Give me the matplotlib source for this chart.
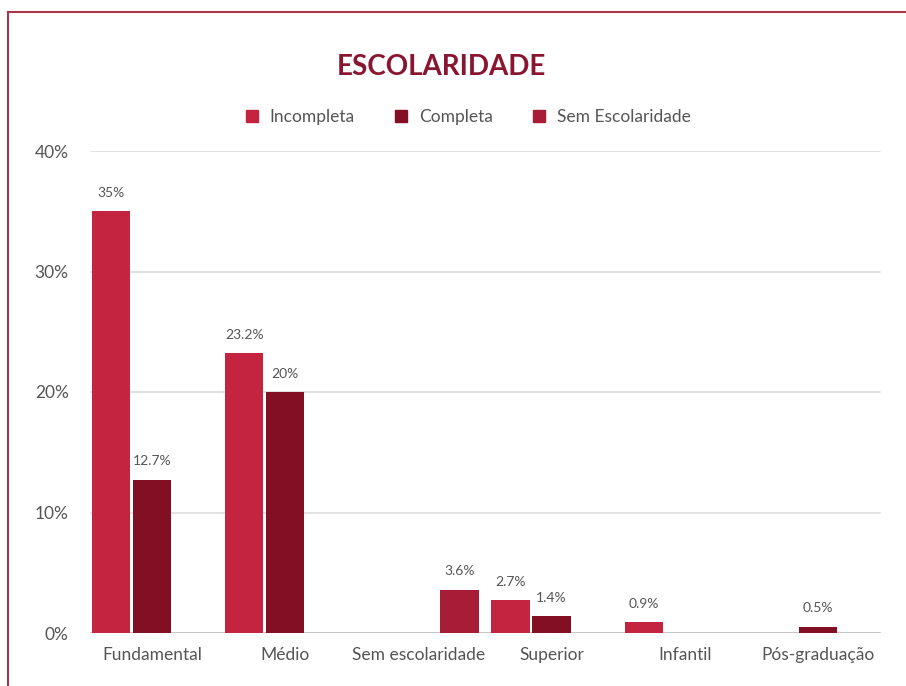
import matplotlib
matplotlib.use("Agg")
import matplotlib.pyplot as plt
from matplotlib.lines import Line2D
import numpy as np

plt.rcParams['font.family'] = ['Lato', 'DejaVu Sans']

categories = ["Fundamental", "Médio", "Sem escolaridade", "Superior", "Infantil", "Pós-graduação"]
series_names = ["Incompleta", "Completa", "Sem Escolaridade"]
incompleta = [35, 23.2, None, 2.7, 0.9, None]
completa = [12.7, 20, None, 1.4, None, 0.5]
sem_escolaridade = [None, None, 3.6, None, None, None]
label_incompleta = ["35%", "23.2%", None, "2.7%", "0.9%", None]
label_completa = ["12.7%", "20%", None, "1.4%", None, "0.5%"]
label_sem = [None, None, "3.6%", None, None, None]
yticks = [0, 10, 20, 30, 40]
ytick_labels = ["0%", "10%", "20%", "30%", "40%"]
title = "ESCOLARIDADE"

colors = ["#C52440", "#830F25", "#A71D38"]
text_grey = "#555555"

W, H = 906, 686
fig = plt.figure(figsize=(W / 100, H / 100), dpi=100)
ax_left, ax_right = 85.4, 884.6
ax_bottom, ax_top = 633, 151
ax = fig.add_axes([ax_left / W, 1 - ax_bottom / H, (ax_right - ax_left) / W, (ax_bottom - ax_top) / H])

x = np.arange(len(categories))
slot = 0.308
bw = 0.289
all_series = [incompleta, completa, sem_escolaridade]
all_labels = [label_incompleta, label_completa, label_sem]
for k, (vals, labs) in enumerate(zip(all_series, all_labels)):
    for i, v in enumerate(vals):
        if v is None:
            continue
        xi = x[i] + (k - 1) * slot
        ax.bar(xi, v, width=bw, color=colors[k], zorder=3)
        ax.annotate(labs[i], (xi, v), xytext=(0, 9), textcoords="offset points",
                    ha="center", va="bottom", fontsize=10, color=text_grey)

ax.set_xlim(-0.5, len(categories) - 0.5)
ax.set_ylim(0, 40)
ax.set_yticks(yticks)
ax.set_yticklabels(ytick_labels, fontsize=12.5, color=text_grey)
ax.set_xticks(x)
ax.set_xticklabels(categories, fontsize=12.5, color=text_grey)
ax.tick_params(axis="both", length=0)
ax.tick_params(axis="x", pad=10)
ax.tick_params(axis="y", pad=12)
for s in ax.spines.values():
    s.set_visible(False)

gx0 = (91 - ax_left) / (ax_right - ax_left)
gx1 = (880 - ax_left) / (ax_right - ax_left)
for t in yticks:
    ax.axhline(t, xmin=gx0, xmax=gx1, color="#dddddd" if t else "#bbbbbb", lw=1.2, zorder=1)

fig.text(441 / W, 1 - 67 / H, title, ha="center", va="center", fontsize=20,
         fontweight="bold", color="#8A1530")

handles = [Line2D([0], [0], marker="s", linestyle="none", markersize=9,
                  markerfacecolor=c, markeredgecolor=c) for c in colors]
fig.legend(handles, series_names, loc="center", bbox_to_anchor=(467 / W, 1 - 117 / H),
           ncol=3, frameon=False, fontsize=12.5, labelcolor=text_grey,
           handletextpad=0.5, columnspacing=2.2, handlelength=1.0)

# frame (top and left edges visible)
fig.add_artist(Line2D([8 / W, 1.0], [1 - 12 / H, 1 - 12 / H], color="#A8354A", lw=1.5,
                      transform=fig.transFigure))
fig.add_artist(Line2D([8 / W, 8 / W], [1 - 12 / H, 0], color="#A8354A", lw=1.5,
                      transform=fig.transFigure))

fig.savefig("out.png", dpi=100)
